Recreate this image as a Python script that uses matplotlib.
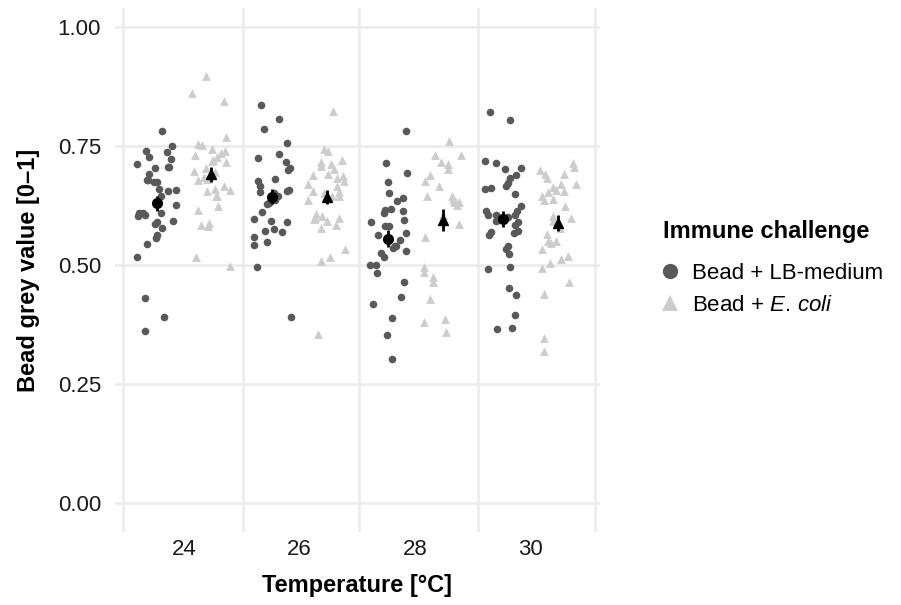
import numpy as np
import matplotlib
matplotlib.use("Agg")
import matplotlib.pyplot as plt
from matplotlib.lines import Line2D

plt.rcParams['font.family'] = ['Liberation Sans', 'DejaVu Sans']
plt.rcParams['mathtext.fontset'] = 'custom'
plt.rcParams['mathtext.it'] = 'Liberation Sans:italic'
plt.rcParams['mathtext.rm'] = 'Liberation Sans'

temps = ['24', '26', '28', '30']
legend_title = 'Immune challenge'
labels = ['Bead + LB-medium', r'Bead + $\it{E.\,coli}$']

# bead grey values
lb_24 = [0.781, 0.749, 0.736, 0.740, 0.726, 0.723, 0.711, 0.705, 0.705, 0.703,
         0.691, 0.678, 0.678, 0.674, 0.674, 0.660, 0.658, 0.655, 0.644, 0.625,
         0.604, 0.609, 0.609, 0.609, 0.603, 0.589, 0.585, 0.592, 0.578, 0.563,
         0.557, 0.544, 0.516, 0.431, 0.391, 0.361]
ec_24 = [0.896, 0.861, 0.843, 0.753, 0.752, 0.768, 0.743, 0.738, 0.726, 0.735,
         0.731, 0.721, 0.717, 0.715, 0.704, 0.694, 0.696, 0.680, 0.684, 0.679,
         0.665, 0.654, 0.658, 0.659, 0.644, 0.645, 0.624, 0.616, 0.588, 0.583,
         0.582, 0.516, 0.498]
lb_26 = [0.836, 0.807, 0.786, 0.756, 0.733, 0.724, 0.715, 0.704, 0.700, 0.680,
         0.676, 0.665, 0.658, 0.651, 0.653, 0.655, 0.644, 0.637, 0.628, 0.630,
         0.611, 0.597, 0.590, 0.592, 0.576, 0.571, 0.568, 0.559, 0.548, 0.541,
         0.495, 0.391]
ec_26 = [0.822, 0.743, 0.739, 0.721, 0.716, 0.712, 0.701, 0.707, 0.690, 0.682,
         0.687, 0.689, 0.677, 0.670, 0.666, 0.652, 0.654, 0.651, 0.645, 0.637,
         0.644, 0.598, 0.591, 0.584, 0.607, 0.598, 0.602, 0.597, 0.578, 0.533,
         0.517, 0.509, 0.354]
lb_28 = [0.782, 0.714, 0.693, 0.673, 0.651, 0.640, 0.635, 0.618, 0.616, 0.612,
         0.609, 0.595, 0.590, 0.582, 0.581, 0.567, 0.562, 0.553, 0.540, 0.540,
         0.535, 0.528, 0.525, 0.517, 0.499, 0.499, 0.483, 0.464, 0.432, 0.417,
         0.389, 0.353, 0.303]
ec_28 = [0.761, 0.731, 0.731, 0.716, 0.712, 0.702, 0.689, 0.676, 0.665, 0.638,
         0.633, 0.644, 0.644, 0.631, 0.631, 0.626, 0.605, 0.586, 0.559, 0.496,
         0.486, 0.475, 0.463, 0.429, 0.386, 0.380, 0.360]
lb_30 = [0.820, 0.805, 0.718, 0.714, 0.703, 0.701, 0.689, 0.682, 0.672, 0.661,
         0.666, 0.659, 0.649, 0.624, 0.614, 0.614, 0.602, 0.605, 0.605, 0.600,
         0.605, 0.591, 0.589, 0.584, 0.563, 0.567, 0.571, 0.569, 0.533, 0.523,
         0.539, 0.492, 0.496, 0.451, 0.437, 0.394, 0.365, 0.368]
ec_30 = [0.714, 0.705, 0.691, 0.700, 0.691, 0.682, 0.670, 0.670, 0.663, 0.652,
         0.658, 0.656, 0.644, 0.639, 0.637, 0.623, 0.598, 0.603, 0.591, 0.577,
         0.564, 0.549, 0.546, 0.551, 0.533, 0.519, 0.512, 0.504, 0.493, 0.464,
         0.439, 0.346, 0.320]

lb_groups = [lb_24, lb_26, lb_28, lb_30]
ec_groups = [ec_24, ec_26, ec_28, ec_30]

dark = '#595959'
light = '#CCCCCC'
grid = '#EBEBEB'
dodge = 0.237
jit = 0.17

fig = plt.figure(figsize=(9.01, 6.05), dpi=100)
ax = fig.add_axes([115 / 901, 73.3 / 605, 485 / 901, 523.4 / 605])

for s in ax.spines.values():
    s.set_visible(False)
ax.set_xlim(-0.597, 3.599)
ax.set_ylim(-0.0603, 1.0386)

# grid: horizontal at the y ticks, vertical between temperature groups
for yv in [0, 0.25, 0.5, 0.75, 1.0]:
    ax.axhline(yv, color=grid, lw=1.8, zorder=0)
for xv in [-0.53, 0.507, 1.517, 2.546, 3.556]:
    ax.axvline(xv, color=grid, lw=1.8, zorder=0)

rng = np.random.default_rng(7)  # horizontal jitter only
for i in range(len(temps)):
    lb = np.array(lb_groups[i])
    ec = np.array(ec_groups[i])
    ax.scatter(i - dodge + rng.uniform(-jit, jit, len(lb)), lb, s=30, marker='o',
               color=dark, linewidths=0, zorder=2)
    ax.scatter(i + dodge + rng.uniform(-jit, jit, len(ec)), ec, s=40, marker='^',
               color=light, linewidths=0, zorder=2)

for i in range(len(temps)):
    for vals, off, mk, ms in [(lb_groups[i], -dodge, 'o', 7), (ec_groups[i], dodge, '^', 7.5)]:
        v = np.array(vals)
        m = v.mean()
        se = v.std(ddof=1) / np.sqrt(len(v))
        ax.errorbar(i + off, m, yerr=se, fmt=mk, color='black', ms=ms,
                    elinewidth=2, capsize=0, zorder=4)

ax.set_xticks(range(len(temps)))
ax.set_xticklabels(temps)
ax.set_yticks([0, 0.25, 0.5, 0.75, 1.0])
ax.set_yticklabels(['0.00', '0.25', '0.50', '0.75', '1.00'])
ax.tick_params(axis='both', length=0, labelsize=16, labelcolor='#1a1a1a')
ax.tick_params(axis='x', pad=5)
ax.tick_params(axis='y', pad=10)

ax.set_xlabel('Temperature [°C]', fontsize=17, fontweight='bold', va='center')
ax.xaxis.set_label_coords(0.5, -0.103)
ax.set_ylabel('Bead grey value [0–1]', fontsize=17, fontweight='bold', va='center')
ax.yaxis.set_label_coords(-0.179, 0.5)

handles = [Line2D([], [], ls='none', marker='o', ms=11, color=dark, mew=0),
           Line2D([], [], ls='none', marker='^', ms=12, color=light, mew=0)]
leg = fig.legend(handles, labels, loc='upper left', bbox_to_anchor=(663 / 901, 1 - 220 / 605),
                 frameon=False, title=legend_title, alignment='left',
                 title_fontproperties={'weight': 'bold', 'size': 17}, fontsize=16,
                 handlelength=0.6, handletextpad=0.7, labelspacing=0.5, borderpad=0,
                 borderaxespad=0)
leg._legend_box.sep = 14.5

fig.savefig('out.png', dpi=100)
